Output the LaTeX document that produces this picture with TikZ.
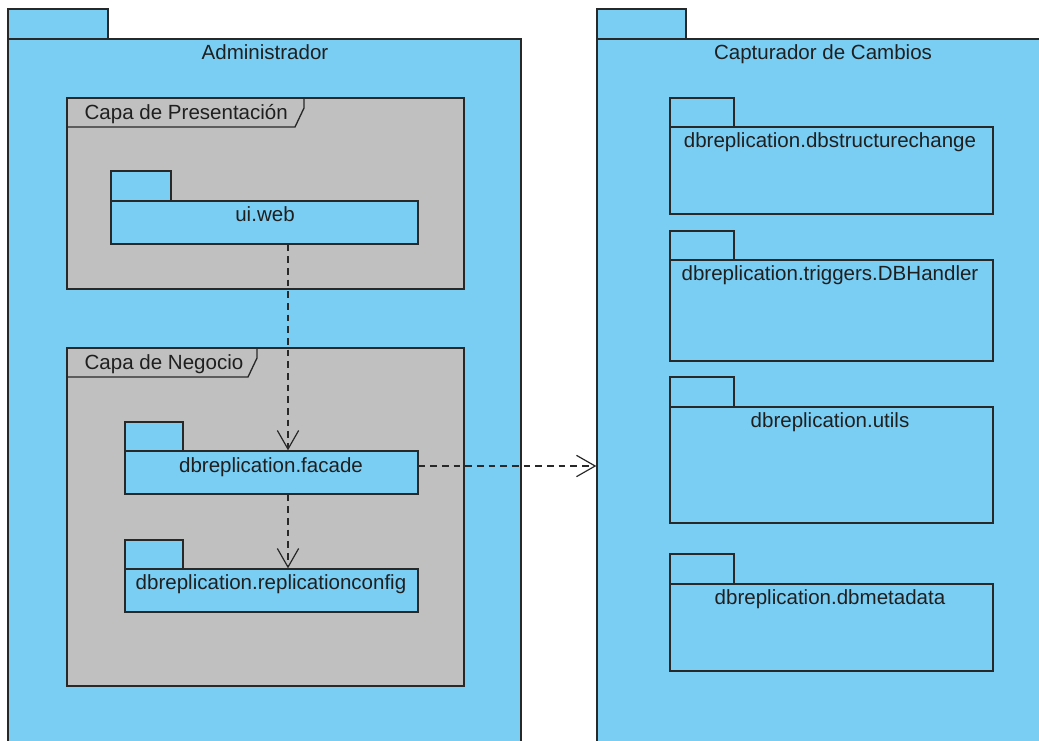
\documentclass[tikz,border=0pt]{standalone}
\usepackage{fontspec}
\setmainfont{Liberation Sans}
\usetikzlibrary{arrows.meta,fit}
\definecolor{pkgblue}{RGB}{122,206,244}
\definecolor{framegray}{RGB}{192,192,192}
\definecolor{edgegray}{RGB}{40,40,40}
\tikzset{every picture/.style={line width=1pt}}

\begin{document}
\begin{tikzpicture}[x=0.75pt,y=0.75pt,yscale=-1,xscale=1,
	pkgbody/.style={draw=edgegray,fill=pkgblue,inner sep=0pt},
	pkgtab/.style={draw=edgegray,fill=pkgblue},
	framebox/.style={draw=edgegray,fill=framegray,inner sep=0pt},
	pkgname/.style={anchor=base,font=\fontsize{15.4}{18}\selectfont,text=black!88},
	dep/.style={draw=edgegray,line width=0.9pt,dash pattern=on 5pt off 3.75pt,-{Straight Barb[length=14pt,width=16pt]}}]
	\useasboundingbox (0,0) rectangle (1039,740);
	\clip (0,0) rectangle (1039,740);

	%Package: Administrador
	\draw [pkgtab] (8,9) rectangle (108,39) ;
	\node [pkgbody, fit={(8,39) (521,760)}] (admin) {};
	%Package: Capturador de Cambios
	\draw [pkgtab] (597,9) rectangle (686,39) ;
	\node [pkgbody, fit={(597,39) (1060,760)}] (capt) {};

	%Frame: Capa de Presentacion
	\node [framebox, fit={(67,98) (464,289)}] (presframe) {};
	\draw [draw=edgegray] (67,127) -- (295,127) -- (304,108) -- (304,98) ;
	%Frame: Capa de Negocio
	\node [framebox, fit={(67,348) (464,686)}] (negframe) {};
	\draw [draw=edgegray] (67,377) -- (248,377) -- (257,358) -- (257,348) ;

	%Package: ui.web
	\draw [pkgtab] (111,171) rectangle (171,201) ;
	\node [pkgbody, fit={(111,201) (418,244)}] (uiweb) {};
	%Package: dbreplication.facade
	\draw [pkgtab] (125,422) rectangle (183,451) ;
	\node [pkgbody, fit={(125,451) (418,494)}] (facade) {};
	%Package: dbreplication.replicationconfig
	\draw [pkgtab] (125,540) rectangle (183,569) ;
	\node [pkgbody, fit={(125,569) (418,612)}] (replconf) {};

	%Package: dbreplication.dbstructurechange
	\draw [pkgtab] (670,98) rectangle (734,127) ;
	\node [pkgbody, fit={(670,127) (993,214)}] (structchg) {};
	%Package: dbreplication.triggers.DBHandler
	\draw [pkgtab] (670,231) rectangle (734,260) ;
	\node [pkgbody, fit={(670,260) (993,361)}] (dbhandler) {};
	%Package: dbreplication.utils
	\draw [pkgtab] (670,377) rectangle (734,407) ;
	\node [pkgbody, fit={(670,407) (993,523)}] (utils) {};
	%Package: dbreplication.dbmetadata
	\draw [pkgtab] (670,554) rectangle (734,584) ;
	\node [pkgbody, fit={(670,584) (993,671)}] (metadata) {};

	% Text Node
	\node [pkgname] (admintxt) at (265,59) {Administrador};
	% Text Node
	\node [pkgname] (capttxt) at (823,59) {Capturador de Cambios};
	% Text Node
	\node [pkgname, anchor=base west, inner sep=0pt] (prestxt) at (84,119) {Capa de Presentación};
	% Text Node
	\node [pkgname, anchor=base west, inner sep=0pt] (negtxt) at (84,369) {Capa de Negocio};
	% Text Node
	\node [pkgname] (uiwebtxt) at (265,221) {ui.web};
	% Text Node
	\node [pkgname] (facadetxt) at (271,472) {dbreplication.facade};
	% Text Node
	\node [pkgname] (replconftxt) at (271,589) {dbreplication.replicationconfig};
	% Text Node
	\node [pkgname] (structchgtxt) at (830,147) {dbreplication.dbstructurechange};
	% Text Node
	\node [pkgname] (dbhandlertxt) at (830,280) {dbreplication.triggers.DBHandler};
	% Text Node
	\node [pkgname] (utilstxt) at (830,427) {dbreplication.utils};
	% Text Node
	\node [pkgname] (metadatatxt) at (830,604) {dbreplication.dbmetadata};

	%Dependencies
	\coordinate (colx) at (288,0);
	\coordinate (rowy) at (0,466);
	\draw [dep] (uiweb.south -| colx) -- (facade.north -| colx) ;
	\draw [dep] (facade.south -| colx) -- (replconf.north -| colx) ;
	\draw [dep] (facade.east |- rowy) -- (capt.west |- rowy) ;

\end{tikzpicture}
\end{document}
